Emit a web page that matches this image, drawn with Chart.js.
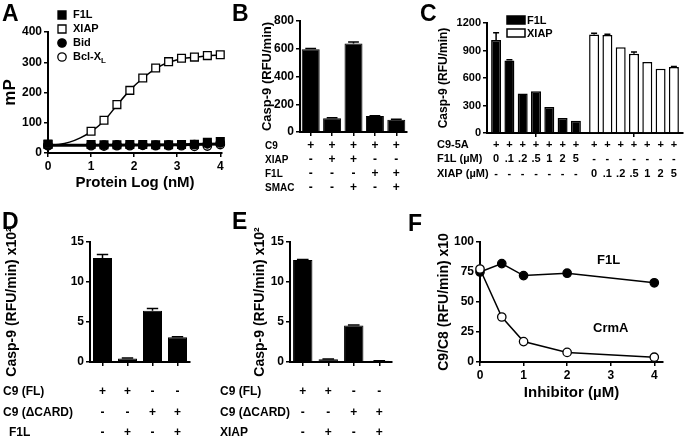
<!DOCTYPE html>
<html>
<head>
<meta charset="utf-8">
<script src="https://cdn.jsdelivr.net/npm/chart.js"></script>
<style>
  body { margin: 0; background: #fff; }
  #wrap { position: relative; width: 685px; height: 442px; overflow: hidden;
          font-family: "Liberation Sans", Arial, sans-serif; font-weight: bold; color: #000; }
  canvas { position: absolute; }
  .lt { position: absolute; font-size: 23px; line-height: 1; }
  .note { position: absolute; font-size: 13px; line-height: 1; }
</style>
</head>
<body>
<div id="wrap">
  <canvas id="cA" width="230" height="200" style="left:0;top:0"></canvas>
  <canvas id="cB" width="200" height="200" style="left:230px;top:0"></canvas>
  <canvas id="cC" width="255" height="200" style="left:430px;top:0"></canvas>
  <canvas id="cD" width="230" height="222" style="left:0;top:220px"></canvas>
  <canvas id="cE" width="235" height="222" style="left:215px;top:220px"></canvas>
  <canvas id="cF" width="285" height="222" style="left:400px;top:220px"></canvas>
  <div class="lt" style="left:2px;top:2px">A</div>
  <div class="lt" style="left:232px;top:2px">B</div>
  <div class="lt" style="left:420px;top:2px">C</div>
  <div class="lt" style="left:2px;top:210px">D</div>
  <div class="lt" style="left:232px;top:210px">E</div>
  <div class="lt" style="left:408px;top:212px">F</div>
  <div class="note" style="left:597px;top:253px">F1L</div>
  <div class="note" style="left:593px;top:321px">CrmA</div>
</div>
<script>
// ---- A: binding, mP vs log protein
const aDose = [0, 1, 1.3, 1.6, 1.9, 2.2, 2.5, 2.8, 3.1, 3.4, 3.7, 4];
const aF1L  = [30, 28, 27, 27, 28, 28, 27, 27, 28, 29, 35, 38];
const aXIAP = [28, 72, 108, 160, 207, 248, 281, 302, 313, 317, 322, 325];
const aBid  = [26, 27, 26, 27, 27, 27, 26, 27, 27, 28, 30, 33];
const aBcl  = [24, 24, 23, 24, 24, 25, 24, 24, 24, 22, 23, 28];
// fitted curves
const aFitDose = [0, 0.25, 0.5, 0.75, 1, 1.3, 1.6, 1.9, 2.2, 2.5, 2.8, 3.1, 3.4, 3.7, 4];
const aFitXIAP = [25, 28, 36, 50, 71, 106, 158, 207, 247, 279, 300, 311, 317, 321, 324];
const aFlatDose = [0, 1, 2, 3, 4];
const aFitFlat  = [26, 26, 26.5, 27.5, 30];

// ---- B
const bLanes = ['1', '2', '3', '4', '5'];
const bRate = [597, 100, 637, 115, 88];
const bErr  = [4, 3, 12, 3, 3];
const bC9   = ['+', '+', '+', '+', '+'];
const bXIAP = ['-', '+', '+', '-', '-'];
const bF1L  = ['-', '-', '-', '+', '+'];
const bSMAC = ['-', '-', '+', '-', '+'];

// ---- C
const cGroups = ['F1L', 'XIAP'];
const cDoses = ['0', '.1', '.2', '.5', '1', '2', '5'];
const cF1L     = [1015, 790, 430, 455, 285, 165, 135];
const cF1LErr  = [80, 8, 0, 0, 0, 0, 0];
const cXIAP    = [1075, 1070, 935, 865, 775, 700, 720];
const cXIAPErr = [12, 8, 0, 18, 0, 0, 5];

// ---- D / E
const deLanes = ['1', '2', '3', '4'];
const dRate = [13.0, 0.45, 6.4, 3.08];
const dErr  = [0.45, 0.05, 0.3, 0.08];
const eRate = [12.75, 0.35, 4.55, 0.15];
const eErr  = [0.05, 0.03, 0.08, 0.02];
const deFL    = ['+', '+', '-', '-'];
const deDCARD = ['-', '-', '+', '+'];
const deInh   = ['-', '+', '-', '+'];

// ---- F
const fDose = [0, 0.5, 1, 2, 4];
const fF1L  = [75, 82, 72, 74, 66];
const fCrmA = [77.5, 37.5, 17, 8, 4];

const FONT = '"Liberation Sans", Arial, sans-serif';
Chart.defaults.font.family = FONT;
Chart.defaults.font.weight = 'bold';
Chart.defaults.color = '#000';
Chart.defaults.animation = false;
Chart.defaults.plugins.legend.display = false;
Chart.defaults.plugins.tooltip.enabled = false;

const axisLine = { display: true, color: '#000', width: 2 };
const tickMarks = { drawOnChartArea: false, drawTicks: true, tickLength: 4, color: '#000', lineWidth: 1.5 };
const plainNum = function (v) { return String(v); };

function yScale(max, step, width, title, titleSize, tickSize) {
  return {
    min: 0, max: max,
    border: axisLine, grid: tickMarks,
    ticks: { stepSize: step, color: '#000', font: { size: tickSize, weight: 'bold' }, padding: 2, callback: plainNum },
    title: { display: true, text: title, color: '#000', font: { size: titleSize, weight: 'bold' }, padding: 0 },
    afterFit: function (s) { s.width = width; }
  };
}
function catScale() {
  return {
    offset: true, border: axisLine,
    grid: Object.assign({ offset: false }, tickMarks),
    ticks: { display: false },
    afterFit: function (s) { s.height = 10; }
  };
}
function pts(xs, ys) { return xs.map(function (x, i) { return { x: x, y: ys[i] }; }); }

const errorBars = {
  id: 'errorBars',
  afterDatasetsDraw: function (chart) {
    const ctx = chart.ctx, ys = chart.scales.y;
    chart.data.datasets.forEach(function (ds, di) {
      if (!ds.errors) return;
      chart.getDatasetMeta(di).data.forEach(function (bar, i) {
        const e = ds.errors[i];
        if (!e) return;
        const top = ys.getPixelForValue(ds.data[i] + e);
        const w = bar.width * 0.3;
        ctx.save();
        ctx.strokeStyle = '#000'; ctx.lineWidth = 1.5;
        ctx.beginPath();
        ctx.moveTo(bar.x, bar.y); ctx.lineTo(bar.x, top);
        ctx.moveTo(bar.x - w, top); ctx.lineTo(bar.x + w, top);
        ctx.stroke();
        ctx.restore();
      });
    });
  }
};

// +/- table under the bars, columns taken from the bar positions
function tablePlugin(rows, labelSize, cellSize) {
  return {
    id: 'table',
    afterDraw: function (chart) {
      const ctx = chart.ctx, cols = [];
      chart.data.labels.forEach(function (l, g) {
        chart.data.datasets.forEach(function (ds, d) { cols.push(chart.getDatasetMeta(d).data[g].x); });
      });
      ctx.save();
      ctx.fillStyle = '#000'; ctx.textBaseline = 'middle';
      rows.forEach(function (r) {
        ctx.font = 'bold ' + labelSize + 'px ' + FONT;
        ctx.textAlign = 'left';
        ctx.fillText(r.label, r.x, r.y);
        ctx.font = 'bold ' + cellSize + 'px ' + FONT;
        ctx.textAlign = 'center';
        r.cells.forEach(function (c, i) { ctx.fillText(c, cols[i], r.y); });
      });
      ctx.restore();
    }
  };
}

// ---------- A
new Chart(document.getElementById('cA'), {
  type: 'scatter',
  data: {
    datasets: [
      { label: 'F1L', data: pts(aDose, aF1L), pointStyle: 'rect', pointRadius: 5.5, pointBackgroundColor: '#000', pointBorderColor: '#000', pointBorderWidth: 1.3, clip: false },
      { label: 'XIAP', data: pts(aDose, aXIAP), pointStyle: 'rect', pointRadius: 5.5, pointBackgroundColor: '#fff', pointBorderColor: '#000', pointBorderWidth: 1.3, clip: false },
      { label: 'Bid', data: pts(aDose, aBid), pointStyle: 'circle', pointRadius: 4.2, pointBackgroundColor: '#000', pointBorderColor: '#000', pointBorderWidth: 1.3, clip: false },
      { label: 'Bcl-XL', data: pts(aDose, aBcl), pointStyle: 'circle', pointRadius: 4.2, pointBackgroundColor: '#fff', pointBorderColor: '#000', pointBorderWidth: 1.3, clip: false },
      { data: pts(aFitDose, aFitXIAP), showLine: true, pointRadius: 0, borderColor: '#000', borderWidth: 1.5, cubicInterpolationMode: 'monotone', clip: false },
      { data: pts(aFlatDose, aFitFlat), showLine: true, pointRadius: 0, borderColor: '#000', borderWidth: 3, cubicInterpolationMode: 'monotone', clip: false }
    ]
  },
  options: {
    responsive: false,
    layout: { padding: { left: 0, top: 32, right: 8, bottom: 8 } },
    scales: {
      x: {
        type: 'linear', min: 0, max: 4.04, border: axisLine, grid: tickMarks,
        ticks: { stepSize: 1, includeBounds: false, color: '#000', font: { size: 12, weight: 'bold' }, padding: 2 },
        title: { display: true, text: 'Protein Log (nM)', color: '#000', font: { size: 15, weight: 'bold' }, padding: 0 },
        afterFit: function (s) { s.height = 39; }
      },
      y: yScale(400, 100, 48, 'mP', 17, 12)
    }
  },
  plugins: [{
    id: 'legendA',
    afterDraw: function (chart) {
      const ctx = chart.ctx;
      chart.data.datasets.slice(0, 4).forEach(function (ds, i) {
        const x = 62, y = 15 + i * 14;
        ctx.save();
        ctx.lineWidth = 1.3; ctx.strokeStyle = '#000'; ctx.fillStyle = ds.pointBackgroundColor;
        ctx.beginPath();
        if (ds.pointStyle === 'rect') ctx.rect(x - 4, y - 4, 8, 8); else ctx.arc(x, y, 4.2, 0, Math.PI * 2);
        ctx.fill(); ctx.stroke();
        ctx.fillStyle = '#000'; ctx.textBaseline = 'middle'; ctx.textAlign = 'left';
        ctx.font = 'bold 11px ' + FONT;
        if (ds.label === 'Bcl-XL') {
          ctx.fillText('Bcl-X', x + 11, y);
          const w = ctx.measureText('Bcl-X').width;
          ctx.font = 'bold 8px ' + FONT;
          ctx.fillText('L', x + 11 + w, y + 4);
        } else {
          ctx.fillText(ds.label, x + 11, y);
        }
        ctx.restore();
      });
    }
  }]
});

// ---------- B
new Chart(document.getElementById('cB'), {
  type: 'bar',
  data: {
    labels: bLanes,
    datasets: [{ data: bRate, errors: bErr, backgroundColor: '#000', borderColor: '#000', borderWidth: 1, barPercentage: 0.84, categoryPercentage: 1 }]
  },
  options: {
    responsive: false,
    layout: { padding: { left: 30, top: 21, right: 23, bottom: 58 } },
    scales: { x: catScale(), y: yScale(800, 200, 40, 'Casp-9 (RFU/min)', 13, 12) }
  },
  plugins: [errorBars, tablePlugin([
    { label: 'C9', x: 35, y: 146, cells: bC9 },
    { label: 'XIAP', x: 35, y: 160, cells: bXIAP },
    { label: 'F1L', x: 35, y: 174, cells: bF1L },
    { label: 'SMAC', x: 35, y: 188, cells: bSMAC }
  ], 10, 12)]
});

// ---------- C
const cSets = cDoses.map(function (d, i) {
  return {
    label: d, data: [cF1L[i], cXIAP[i]], errors: [cF1LErr[i], cXIAPErr[i]],
    backgroundColor: ['#000', '#fff'], borderColor: '#000', borderWidth: 1.5,
    barPercentage: 0.75, categoryPercentage: 0.95
  };
});
new Chart(document.getElementById('cC'), {
  type: 'bar',
  data: { labels: cGroups, datasets: cSets },
  options: {
    responsive: false,
    layout: { padding: { left: 6, top: 23, right: 2, bottom: 57 } },
    scales: { x: catScale(), y: yScale(1200, 300, 51, 'Casp-9 (RFU/min)', 12, 11) }
  },
  plugins: [errorBars, tablePlugin([
    { label: 'C9-5A', x: 7, y: 145, cells: cDoses.concat(cDoses).map(function () { return '+'; }) },
    { label: 'F1L (\u00b5M)', x: 7, y: 159, cells: cDoses.concat(cDoses.map(function () { return '-'; })) },
    { label: 'XIAP (\u00b5M)', x: 7, y: 174, cells: cDoses.map(function () { return '-'; }).concat(cDoses) }
  ], 11, 11), {
    id: 'legendC',
    afterDraw: function (chart) {
      const ctx = chart.ctx;
      cGroups.forEach(function (g, i) {
        const y = 16 + i * 13;
        ctx.save();
        ctx.fillStyle = i === 0 ? '#000' : '#fff'; ctx.strokeStyle = '#000'; ctx.lineWidth = 1.5;
        ctx.fillRect(77, y, 18, 8); ctx.strokeRect(77, y, 18, 8);
        ctx.fillStyle = '#000'; ctx.font = 'bold 11px ' + FONT; ctx.textBaseline = 'middle';
        ctx.fillText(g, 97, y + 4.5);
        ctx.restore();
      });
    }
  }]
});

// ---------- D and E
function deChart(id, vals, errs, pad, yW, labelX, inhName) {
  return new Chart(document.getElementById(id), {
    type: 'bar',
    data: {
      labels: deLanes,
      datasets: [{ data: vals, errors: errs, backgroundColor: '#000', borderColor: '#000', borderWidth: 1, barPercentage: 0.76, categoryPercentage: 1 }]
    },
    options: {
      responsive: false,
      layout: { padding: pad },
      scales: { x: catScale(), y: yScale(15, 5, yW, 'Casp-9 (RFU/min) x10\u00b2', 14, 12) }
    },
    plugins: [errorBars, tablePlugin([
      { label: 'C9 (FL)', x: labelX[0], y: 172, cells: deFL },
      { label: 'C9 (\u0394CARD)', x: labelX[1], y: 193, cells: deDCARD },
      { label: inhName, x: labelX[2], y: 213, cells: deInh }
    ], 12, 12)]
  });
}
deChart('cD', dRate, dErr, { left: 4, top: 22, right: 40, bottom: 70 }, 86, [3, 3, 9], 'F1L');
deChart('cE', eRate, eErr, { left: 37, top: 22, right: 58, bottom: 70 }, 38, [5, 5, 5], 'XIAP');

// ---------- F
new Chart(document.getElementById('cF'), {
  type: 'scatter',
  data: {
    datasets: [
      { label: 'CrmA', data: pts(fDose, fCrmA), showLine: true, borderColor: '#000', borderWidth: 1.5, pointRadius: 4.2, pointBackgroundColor: '#fff', pointBorderColor: '#000', pointBorderWidth: 1.3, clip: false },
      { label: 'F1L', data: pts(fDose, fF1L), showLine: true, borderColor: '#000', borderWidth: 1.5, pointRadius: 4.2, pointBackgroundColor: '#000', pointBorderColor: '#000', pointBorderWidth: 1.3, clip: false }
    ]
  },
  options: {
    responsive: false,
    layout: { padding: { left: 36, top: 22, right: 22, bottom: 40 } },
    scales: {
      x: {
        type: 'linear', min: 0, max: 4.2, border: axisLine, grid: tickMarks,
        ticks: { stepSize: 1, includeBounds: false, color: '#000', font: { size: 12, weight: 'bold' }, padding: 2 },
        title: { display: true, text: 'Inhibitor (\u00b5M)', color: '#000', font: { size: 15, weight: 'bold' }, padding: 0 },
        afterFit: function (s) { s.height = 40; }
      },
      y: yScale(100, 25, 44, 'C9/C8 (RFU/min) x10', 14, 12)
    }
  }
});
</script>
</body>
</html>
